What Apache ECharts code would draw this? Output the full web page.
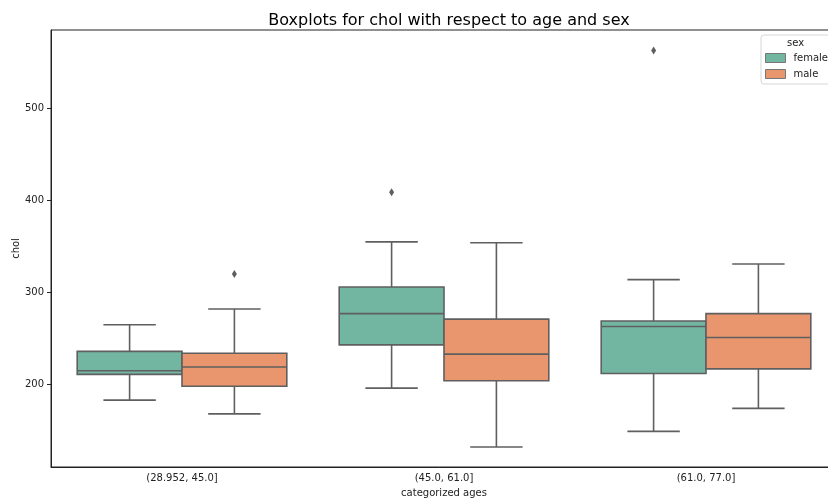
<!DOCTYPE html>
<html>
<head>
<meta charset="utf-8">
<script src="https://cdn.jsdelivr.net/npm/echarts@6/dist/echarts.min.js"></script>
<style>html,body{margin:0;padding:0;background:#fff}#c{width:828px;height:500px}</style>
</head>
<body>
<div id="c"></div>
<script>
const categories = ['(28.952, 45.0]', '(45.0, 61.0]', '(61.0, 77.0]'];
// [low whisker, Q1, median, Q3, high whisker]
const femaleBox = [[183, 211, 215, 236, 265], [196, 243, 277, 306, 355], [149, 212, 263, 269, 314]];
const maleBox = [[168, 198, 219, 234, 282], [132, 204, 233, 271, 354], [174, 217, 251, 277, 331]];
// [category index, value]
const femaleOutliers = [[1, 409], [2, 563]];
const maleOutliers = [[0, 320]];
const yTicks = [200, 300, 400, 500];

const FEMALE = '#72b6a1', MALE = '#e9966f', LINE = '#5f5f5f';

function boxRender(offset, fill) {
  return function (params, api) {
    const idx = api.value(0);
    const band = api.size([1, 0])[0];
    const cx = api.coord([idx, 0])[0] + offset * band;
    const hw = band * 0.2;
    const y = i => api.coord([idx, api.value(i)])[1];
    const lo = y(1), q1 = y(2), md = y(3), q3 = y(4), hi = y(5);
    const ls = { stroke: LINE, lineWidth: 1.6 };
    return {
      type: 'group',
      children: [
        { type: 'line', shape: { x1: cx, y1: q3, x2: cx, y2: hi }, style: ls },
        { type: 'line', shape: { x1: cx, y1: q1, x2: cx, y2: lo }, style: ls },
        { type: 'line', shape: { x1: cx - hw / 2, y1: hi, x2: cx + hw / 2, y2: hi }, style: ls },
        { type: 'line', shape: { x1: cx - hw / 2, y1: lo, x2: cx + hw / 2, y2: lo }, style: ls },
        { type: 'rect', shape: { x: cx - hw, y: q3, width: 2 * hw, height: q1 - q3 }, style: { fill: fill, stroke: LINE, lineWidth: 1.6 } },
        { type: 'line', shape: { x1: cx - hw, y1: md, x2: cx + hw, y2: md }, style: ls }
      ]
    };
  };
}
function outlierRender(offset) {
  return function (params, api) {
    const idx = api.value(0);
    const band = api.size([1, 0])[0];
    const p = api.coord([idx, api.value(1)]);
    const cx = p[0] + offset * band, cy = p[1];
    return {
      type: 'polygon',
      shape: { points: [[cx, cy - 4], [cx + 2.5, cy], [cx, cy + 4], [cx - 2.5, cy]] },
      style: { fill: LINE }
    };
  };
}

const chart = echarts.init(document.getElementById('c'));
chart.setOption({
  animation: false,
  title: {
    text: 'Boxplots for chol with respect to age and sex',
    left: 444, top: 8, textAlign: 'center',
    textStyle: { fontFamily: 'DejaVu Sans', fontSize: 16, fontWeight: 'normal', color: '#000' }
  },
  grid: { left: 51, top: 30, width: 786, height: 437, show: true, borderColor: '#222', borderWidth: 1,
          outerBoundsMode: 'none', containLabel: false },
  xAxis: {
    type: 'category', data: categories,
    name: 'categorized ages', nameLocation: 'middle', nameGap: 21, nameMoveOverlap: false,
    nameTextStyle: { fontFamily: 'DejaVu Sans', fontSize: 10, color: '#222' },
    axisLine: { lineStyle: { color: '#222' } },
    axisTick: { alignWithLabel: true, length: 4, lineStyle: { color: '#222' } },
    axisLabel: { fontFamily: 'DejaVu Sans', fontSize: 10, color: '#222', margin: 6 },
    splitLine: { show: false }
  },
  yAxis: {
    type: 'value', min: 110.3, max: 585.3,
    name: 'chol', nameLocation: 'middle', nameGap: 30, nameMoveOverlap: false,
    nameTextStyle: { fontFamily: 'DejaVu Sans', fontSize: 10, color: '#222' },
    axisLine: { show: true, lineStyle: { color: '#222' } },
    axisTick: { show: true, length: 4, customValues: yTicks, lineStyle: { color: '#222' } },
    axisLabel: { fontFamily: 'DejaVu Sans', fontSize: 10, color: '#222', margin: 7, customValues: yTicks },
    splitLine: { show: false }
  },
  legend: {
    data: ['female', 'male'], orient: 'vertical', left: 761, top: 35,
    padding: [18, 20, 5, 4], itemGap: 6, itemWidth: 20, itemHeight: 9,
    borderColor: '#d6d6d6', borderWidth: 1, borderRadius: 3, backgroundColor: 'rgba(255,255,255,0.8)',
    icon: 'rect', itemStyle: { borderColor: '#777', borderWidth: 1 },
    textStyle: { fontFamily: 'DejaVu Sans', fontSize: 10, color: '#222', padding: [0, 0, 0, 3] }
  },
  graphic: [{
    type: 'text', left: 787, top: 38, z: 100,
    style: { text: 'sex', fontFamily: 'DejaVu Sans', fontSize: 10, fill: '#222' }
  }],
  series: [
    { name: 'female', type: 'custom', renderItem: boxRender(-0.2, FEMALE), itemStyle: { color: FEMALE },
      encode: { x: 0, y: [1, 2, 3, 4, 5] }, data: femaleBox.map((b, i) => [i].concat(b)) },
    { name: 'male', type: 'custom', renderItem: boxRender(0.2, MALE), itemStyle: { color: MALE },
      encode: { x: 0, y: [1, 2, 3, 4, 5] }, data: maleBox.map((b, i) => [i].concat(b)) },
    { name: 'female outliers', type: 'custom', renderItem: outlierRender(-0.2),
      encode: { x: 0, y: 1 }, data: femaleOutliers },
    { name: 'male outliers', type: 'custom', renderItem: outlierRender(0.2),
      encode: { x: 0, y: 1 }, data: maleOutliers }
  ]
});
</script>
</body>
</html>
